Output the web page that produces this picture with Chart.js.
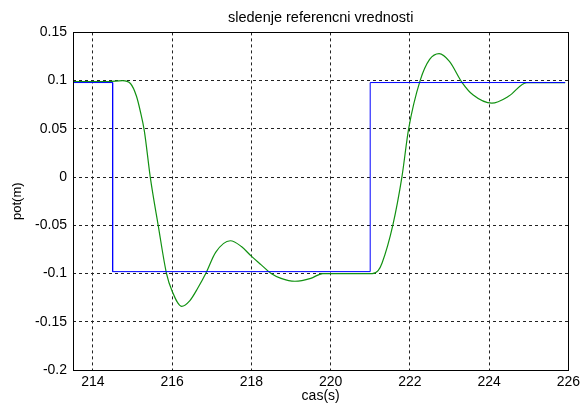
<!DOCTYPE html>
<html>
<head>
<meta charset="utf-8">
<script src="https://cdn.jsdelivr.net/npm/chart.js@4/dist/chart.umd.min.js"></script>
<style>
  html, body { margin: 0; padding: 0; background: #fff; }
  #wrap { width: 584px; height: 403px; }
</style>
</head>
<body>
<div id="wrap"><canvas id="chart"></canvas></div>
<script>
// reference signal (blue step)
const refTime = [213.5, 214.5, 214.5, 221.0, 221.0, 225.92];
const refPos  = [0.098, 0.098, -0.098, -0.098, 0.098, 0.098];

// measured position (green)
const outTime = [213.5, 214.0, 214.4, 214.75, 214.95, 215.1, 215.2, 215.3, 215.45, 215.65,
  215.86, 216.0, 216.24, 216.45, 216.65, 216.85, 217.1, 217.47, 217.75, 218.0,
  218.25, 218.5, 218.75, 219.1, 219.5, 219.8, 220.5, 221.05, 221.2, 221.3,
  221.57, 221.8, 221.97, 222.26, 222.5, 222.74, 223.0, 223.32, 223.6, 224.07,
  224.5, 224.95, 225.5, 225.92];
const outPos = [0.099, 0.099, 0.099, 0.100, 0.097, 0.084, 0.068, 0.048, 0.000, -0.050,
  -0.100, -0.118, -0.134, -0.128, -0.115, -0.100, -0.078, -0.066, -0.072, -0.082,
  -0.091, -0.100, -0.105, -0.108, -0.105, -0.100, -0.100, -0.100, -0.097, -0.089,
  -0.050, 0.000, 0.050, 0.100, 0.122, 0.128, 0.120, 0.098, 0.085, 0.0766,
  0.084, 0.098, 0.098, 0.098];

const xTicks = [214, 216, 218, 220, 222, 224, 226];
const yTicks = [0.15, 0.1, 0.05, 0, -0.05, -0.1, -0.15, -0.2];

const font = { family: 'Liberation Sans, Arial, sans-serif', size: 14 };
const gridStyle = { color: '#222', lineWidth: 1, drawTicks: false };

// solid frame round the plot, like matlab's axes box
const boxPlugin = {
  id: 'box',
  afterDatasetsDraw(chart) {
    const { ctx, chartArea: a } = chart;
    ctx.save();
    ctx.strokeStyle = '#000';
    ctx.lineWidth = 1;
    ctx.setLineDash([]);
    ctx.strokeRect(Math.round(a.left) + 0.5, Math.round(a.top) + 0.5,
      Math.round(a.right - a.left), Math.round(a.bottom - a.top));
    ctx.restore();
  }
};

new Chart(document.getElementById('chart'), {
  type: 'line',
  data: {
    datasets: [
      {
        data: refTime.map((t, i) => ({ x: t, y: refPos[i] })),
        borderColor: '#0000ff',
        borderWidth: 1,
        pointRadius: 0,
        tension: 0
      },
      {
        data: outTime.map((t, i) => ({ x: t, y: outPos[i] })),
        borderColor: '#119111',
        borderWidth: 1.2,
        pointRadius: 0,
        cubicInterpolationMode: 'monotone'
      }
    ]
  },
  options: {
    responsive: true,
    maintainAspectRatio: false,
    animation: false,
    layout: { padding: { left: 0, right: 12, top: 0, bottom: 0 } },
    plugins: {
      legend: { display: false },
      tooltip: { enabled: false },
      title: {
        display: true,
        fullSize: false,
        text: 'sledenje referencni vrednosti',
        color: '#000',
        font: { ...font, weight: 'normal', size: 14.5 },
        padding: { top: 9, bottom: 6 }
      }
    },
    scales: {
      x: {
        type: 'linear',
        min: 213.5,
        max: 226,
        afterBuildTicks: s => { s.ticks = xTicks.map(v => ({ value: v })); },
        afterFit: s => { s.height = 33; },
        ticks: { color: '#000', font, padding: 4, callback: v => String(v) },
        grid: { ...gridStyle },
        border: { display: false, dash: [3, 3] },
        title: { display: true, text: 'cas(s)', color: '#000', font: { ...font, lineHeight: 1 }, padding: { top: 0, bottom: 0 } }
      },
      y: {
        type: 'linear',
        min: -0.2,
        max: 0.15,
        afterBuildTicks: s => { s.ticks = yTicks.map(v => ({ value: v })); },
        afterFit: s => { s.width = 73; },
        ticks: { color: '#000', font, padding: 6, callback: v => String(Math.round(v * 100) / 100) },
        grid: { ...gridStyle },
        border: { display: false, dash: [3, 3] },
        title: { display: true, text: 'pot(m)', color: '#000', font: { ...font, size: 13, lineHeight: 1 }, padding: { top: 11, bottom: 0 } }
      }
    }
  },
  plugins: [boxPlugin]
});
</script>
</body>
</html>
